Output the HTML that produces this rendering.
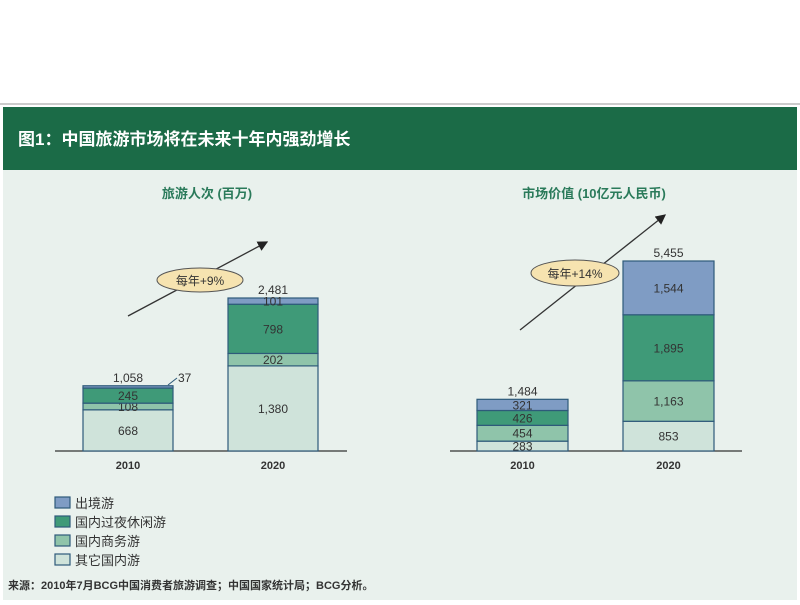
<!DOCTYPE html>
<html><head><meta charset="utf-8"><style>
body{margin:0;width:800px;height:600px;background:#fff;overflow:hidden;font-family:"Liberation Sans","Noto Sans CJK SC",sans-serif}
</style></head><body>
<svg id="c" width="800" height="600" xmlns="http://www.w3.org/2000/svg" style="font-family:'Liberation Sans','Noto Sans CJK SC',sans-serif">
<line x1="0" y1="104" x2="800" y2="104" stroke="#999" stroke-width="1"/>
<rect x="3" y="107" width="794" height="63" fill="#1b6b47"/>
<text x="18" y="145" fill="#fff" font-size="17" font-weight="bold">图1：中国旅游市场将在未来十年内强劲增长</text>
<rect x="3" y="170" width="794" height="430" fill="#e9f1ed"/>
<text x="207" y="198" fill="#2a7a5a" font-size="13" font-weight="bold" text-anchor="middle">旅游人次 (百万)</text>
<text x="594" y="198" fill="#2a7a5a" font-size="13" font-weight="bold" text-anchor="middle">市场价值 (10亿元人民币)</text>
<g id="plots"></g>
<defs><marker id="ah" markerWidth="8" markerHeight="8" refX="7" refY="4" orient="auto"><path d="M0,0L8,4L0,8z" fill="#222"/></marker></defs>
<line x1="128" y1="316" x2="267" y2="242" stroke="#333" stroke-width="1.3" marker-end="url(#ah)"/>
<ellipse cx="200" cy="280" rx="43" ry="12" fill="#f6e3b0" stroke="#555"/>
<text x="200" y="285" font-size="12" text-anchor="middle" fill="#333">每年+9%</text>
<line x1="520" y1="330" x2="665" y2="215" stroke="#333" stroke-width="1.3" marker-end="url(#ah)"/>
<ellipse cx="575" cy="273" rx="44" ry="13" fill="#f6e3b0" stroke="#555"/>
<text x="575" y="278" font-size="12" text-anchor="middle" fill="#333">每年+14%</text>
<line x1="168" y1="385" x2="177" y2="378" stroke="#2e5a7a"/>
<text x="178" y="382" font-size="12" fill="#333">37</text>
<g id="legend"></g>
<text x="8" y="589" font-size="11" font-weight="bold" fill="#333">来源：2010年7月BCG中国消费者旅游调查；中国国家统计局；BCG分析。</text>
</svg>
<script>
const years = ["2010","2020"];
const seriesNames = ["其它国内游","国内商务游","国内过夜休闲游","出境游"];
const tripsOther = [668, 1380];
const tripsBusiness = [108, 202];
const tripsLeisure = [245, 798];
const tripsOutbound = [37, 101];
const tripsTotals = ["1,058","2,481"];
const valueOther = [283, 853];
const valueBusiness = [454, 1163];
const valueLeisure = [426, 1895];
const valueOutbound = [321, 1544];
const valueTotals = ["1,484","5,455"];
const colors = ["#cfe3da","#8fc4aa","#3f9a78","#7f9cc4"];
const NS="http://www.w3.org/2000/svg";
const svg=document.getElementById('plots');
function mk(t,a,p){const e=document.createElementNS(NS,t);for(const k in a)e.setAttribute(k,a[k]);(p||svg).appendChild(e);return e;}
function fmt(v){return v.toLocaleString('en-US');}
function drawChart(prefix,series,totals,x0,bx,bw,base,maxV,maxPx){
  const y=v=>base - v/maxV*maxPx;
  const ax=mk('line',{x1:x0,y1:base,x2:x0+292,y2:base,stroke:'#333','stroke-width':1.2});
  
  
  years.forEach((yr,i)=>{
    let cum=0;
    const cx=bx[i]+bw/2;
    series.forEach((s,j)=>{
      const v=s[i];
      const r=mk('rect',{x:bx[i],y:y(cum+v),width:bw,height:y(cum)-y(cum+v),fill:colors[j],stroke:'#2e5a7a','stroke-width':1.2});
      
      
      const skip = prefix==='trips' && i===0 && j===3;
      if(!skip){
        const t=mk('text',{x:cx,y:(y(cum)+y(cum+v))/2+4.5,'font-size':12,'text-anchor':'middle',fill:'#333'});
        t.textContent=fmt(v);
        
        
      }
      cum+=v;
    });
    const tt=mk('text',{x:cx,y:y(cum)-4,'font-size':12,'text-anchor':'middle',fill:'#333'});
    tt.textContent=totals[i];
    
    
    const yl=mk('text',{x:cx,y:base+18,'font-size':11,'font-weight':'bold','text-anchor':'middle',fill:'#333'});
    yl.textContent=yr;
    
    
  });
}
drawChart('trips',[tripsOther,tripsBusiness,tripsLeisure,tripsOutbound],tripsTotals,55,[83,228],90,451,2481,153);
drawChart('value',[valueOther,valueBusiness,valueLeisure,valueOutbound],valueTotals,450,[477,623],91,451,5455,190);
const lg=document.getElementById('legend');
[3,2,1,0].forEach((j,k)=>{
  const yy=497+k*19;
  const r=mk('rect',{x:55,y:yy,width:15,height:11,fill:colors[j],stroke:'#2e5a7a','stroke-width':1.2},lg);
  
  
  const t=mk('text',{x:75,y:yy+11,'font-size':13,fill:'#333'},lg);
  t.textContent=seriesNames[j];
  
  
});
</script>
</body></html>
